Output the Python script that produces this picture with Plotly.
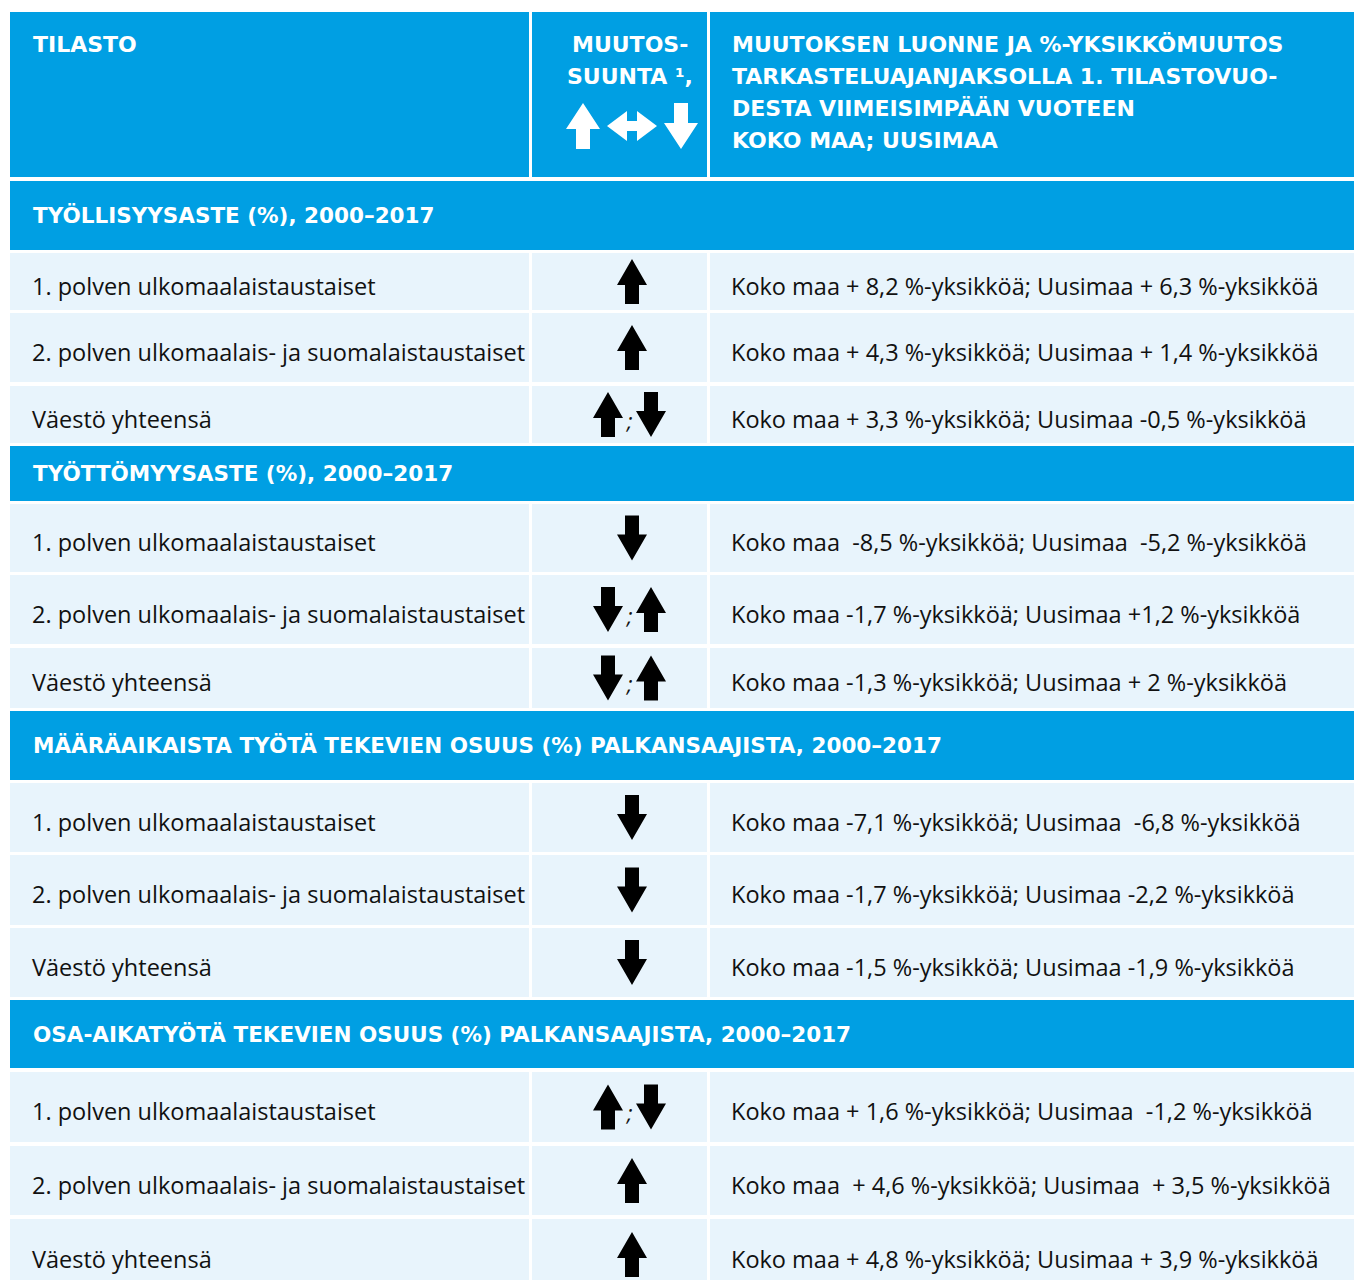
import plotly.graph_objects as go

# ---- table content ----
header_left = "TILASTO"
header_mid = ["MUUTOS-", "SUUNTA ¹,"]
header_right = [
    "MUUTOKSEN LUONNE JA %-YKSIKKÖMUUTOS",
    "TARKASTELUAJANJAKSOLLA 1. TILASTOVUO-",
    "DESTA VIIMEISIMPÄÄN VUOTEEN",
    "KOKO MAA; UUSIMAA",
]

sections = [
    "TYÖLLISYYSASTE (%), 2000–2017",
    "TYÖTTÖMYYSASTE (%), 2000–2017",
    "MÄÄRÄAIKAISTA TYÖTÄ TEKEVIEN OSUUS (%) PALKANSAAJISTA, 2000–2017",
    "OSA-AIKATYÖTÄ TEKEVIEN OSUUS (%) PALKANSAAJISTA, 2000–2017",
]

groups = [
    "1. polven ulkomaalaistaustaiset",
    "2. polven ulkomaalais- ja suomalaistaustaiset",
    "Väestö yhteensä",
]

directions = [
    [["up"], ["up"], ["up", "down"]],
    [["down"], ["down", "up"], ["down", "up"]],
    [["down"], ["down"], ["down"]],
    [["up", "down"], ["up"], ["up"]],
]

changes = [
    ["Koko maa + 8,2 %-yksikköä; Uusimaa + 6,3 %-yksikköä",
     "Koko maa + 4,3 %-yksikköä; Uusimaa + 1,4 %-yksikköä",
     "Koko maa + 3,3 %-yksikköä; Uusimaa -0,5 %-yksikköä"],
    ["Koko maa  -8,5 %-yksikköä; Uusimaa  -5,2 %-yksikköä",
     "Koko maa -1,7 %-yksikköä; Uusimaa +1,2 %-yksikköä",
     "Koko maa -1,3 %-yksikköä; Uusimaa + 2 %-yksikköä"],
    ["Koko maa -7,1 %-yksikköä; Uusimaa  -6,8 %-yksikköä",
     "Koko maa -1,7 %-yksikköä; Uusimaa -2,2 %-yksikköä",
     "Koko maa -1,5 %-yksikköä; Uusimaa -1,9 %-yksikköä"],
    ["Koko maa + 1,6 %-yksikköä; Uusimaa  -1,2 %-yksikköä",
     "Koko maa  + 4,6 %-yksikköä; Uusimaa  + 3,5 %-yksikköä",
     "Koko maa + 4,8 %-yksikköä; Uusimaa + 3,9 %-yksikköä"],
]

# ---- layout geometry (page pixels, y downwards) ----
W, H = 1362, 1280
PAD = 8  # page body margin
cols = [(10, 529), (532, 707), (710, 1362)]
header_box = (12, 177)
section_boxes = [(181, 250), (446, 501), (711, 780), (1000, 1068)]
row_boxes = [
    [(253, 310), (313, 382), (386, 443)],
    [(504, 572), (575, 644), (648, 708)],
    [(783, 852), (855, 925), (928, 997)],
    [(1072, 1142), (1146, 1215), (1219, 1290)],
]

BLUE = "#009fe3"
LIGHT = "#e8f4fc"
INK = "#111111"
BODY_FONT = "Open Sans"
HEAD_FONT = "DejaVu Sans"


def rect(x0, x1, y0, y1, color):
    return dict(type="rect", xref="x", yref="y", x0=x0, x1=x1, y0=y0, y1=y1,
                fillcolor=color, line=dict(width=0), layer="below")


def vert_arrow(cx, cy, d, color, w=30, h=45, head=26, shaft=14):
    t = -1 if d == "up" else 1
    tip = cy + t * h / 2
    base = cy + t * (h / 2 - head)
    tail = cy - t * h / 2
    pts = [(cx, tip), (cx + w / 2, base), (cx + shaft / 2, base), (cx + shaft / 2, tail),
           (cx - shaft / 2, tail), (cx - shaft / 2, base), (cx - w / 2, base)]
    path = "M " + " L ".join(f"{x:.1f},{y:.1f}" for x, y in pts) + " Z"
    return dict(type="path", xref="x", yref="y", path=path, fillcolor=color,
                line=dict(width=0))


def horiz_double_arrow(cx, cy, color, w=50, h=30, head=20, shaft=10):
    l, r = cx - w / 2, cx + w / 2
    pts = [(l, cy), (l + head, cy - h / 2), (l + head, cy - shaft / 2), (r - head, cy - shaft / 2),
           (r - head, cy - h / 2), (r, cy), (r - head, cy + h / 2), (r - head, cy + shaft / 2),
           (l + head, cy + shaft / 2), (l + head, cy + h / 2)]
    path = "M " + " L ".join(f"{x:.1f},{y:.1f}" for x, y in pts) + " Z"
    return dict(type="path", xref="x", yref="y", path=path, fillcolor=color,
                line=dict(width=0))


def text(x, y, s, size, color, family=BODY_FONT, bold=False, anchor="left", italic=False):
    return dict(x=x, y=y, xref="x", yref="y", text=s, showarrow=False,
                xanchor=anchor, yanchor="middle",
                font=dict(family=family, size=size, color=color,
                          weight=700 if bold else 400,
                          style="italic" if italic else "normal"))


shapes = []
annotations = []

# header
for x0, x1 in cols:
    shapes.append(rect(x0, x1, header_box[0], header_box[1], BLUE))
annotations.append(text(31, 44, header_left, 22, "white", HEAD_FONT, bold=True))
for i, line in enumerate(header_mid):
    annotations.append(text(630, 44 + 32 * i, line, 22, "white", HEAD_FONT, bold=True, anchor="center"))
for i, line in enumerate(header_right):
    annotations.append(text(730, 44 + 32 * i, line, 22, "white", HEAD_FONT, bold=True))
shapes.append(vert_arrow(583, 126, "up", "white", w=34, h=46, head=26, shaft=14))
shapes.append(horiz_double_arrow(632, 126, "white"))
shapes.append(vert_arrow(681, 126, "down", "white", w=34, h=46, head=26, shaft=14))

# body
for s, title in enumerate(sections):
    y0, y1 = section_boxes[s]
    shapes.append(rect(cols[0][0], cols[2][1], y0, y1, BLUE))
    annotations.append(text(31, (y0 + y1) / 2, title, 21.5, "white", HEAD_FONT, bold=True))
    for r, label in enumerate(groups):
        ry0, ry1 = row_boxes[s][r]
        cy = (ry0 + ry1) / 2
        for x0, x1 in cols:
            shapes.append(rect(x0, x1, ry0, ry1, LIGHT))
        annotations.append(text(30, cy + 4, label, 23.5, INK))
        annotations.append(text(729, cy + 4, changes[s][r], 23.5, INK))
        dirs = directions[s][r]
        if len(dirs) == 1:
            shapes.append(vert_arrow(632, cy, dirs[0], "black"))
        else:
            shapes.append(vert_arrow(608, cy, dirs[0], "black"))
            shapes.append(vert_arrow(651, cy, dirs[1], "black"))
            annotations.append(text(629, cy + 5, ";", 22, INK, anchor="center", italic=True))

fig = go.Figure()
fig.update_layout(
    width=W - PAD, height=H - PAD,
    margin=dict(l=0, r=0, t=0, b=0),
    paper_bgcolor="white", plot_bgcolor="white",
    xaxis=dict(range=[PAD, W], visible=False, fixedrange=True),
    yaxis=dict(range=[H, PAD], visible=False, fixedrange=True),
    shapes=shapes, annotations=annotations,
    showlegend=False,
)
fig.write_html("out.html")
